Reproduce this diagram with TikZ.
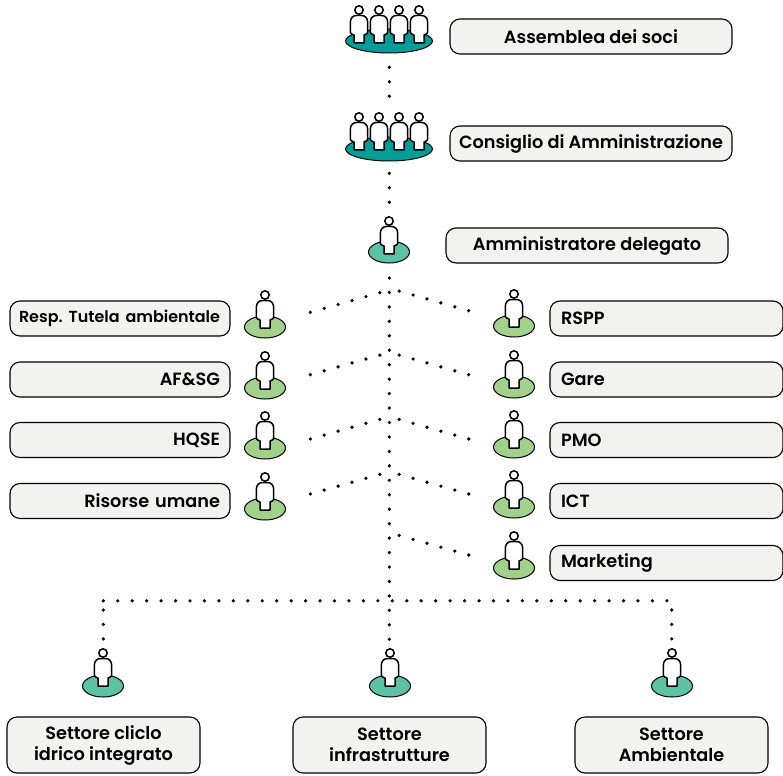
\documentclass[tikz,border=0pt]{standalone}
\usepackage{fontspec}
\setmainfont{Poppins}[BoldFont={Poppins SemiBold}]
\usepackage{xcolor}
\usetikzlibrary{positioning, shapes.geometric}
\definecolor{boardteal}{HTML}{009E98}
\definecolor{leadmint}{HTML}{5BC2A6}
\definecolor{staffgreen}{HTML}{A2D18C}
\definecolor{boxgray}{HTML}{F2F2F1}
\frenchspacing
\newcommand{\linefix}{\rule[-4pt]{0pt}{19pt}}
\tikzset{
    box/.style={draw=black, line width=1.1pt, fill=boxgray, rounded corners=10pt, font=\bfseries\fontsize{17.7}{21}\selectfont, minimum height=35pt, inner xsep=0pt, inner ysep=0pt},
    topbox/.style={box, minimum width=282pt},
    leftbox/.style={box, text width=200pt, minimum width=220pt, inner xsep=10pt, align=right},
    rightbox/.style={box, text width=211pt, minimum width=233pt, inner xsep=11pt, align=left},
    sectorbox/.style={box, minimum width=193pt, minimum height=56pt, align=center},
    plate/.style={ellipse, draw=black, line width=1pt, minimum width=41pt, minimum height=22pt, inner sep=0pt},
    bigplate/.style={plate, fill=boardteal, minimum width=87pt, minimum height=24pt},
    dots/.style={line width=3.6pt, line cap=round, dash pattern=on 0pt off 14.45pt},
    pics/person/.style={code={
        \draw[line width=1.5pt] (0,0) circle (4.2pt);
        \draw[line width=1.5pt, fill=white, line join=round] (-5,33) -- (-5,25) .. controls (-8.7,23.5) .. (-8.7,19.5) -- (-8.7,12.5) .. controls (-8.7,8) and (-6,5.5) .. (-2.5,5.5) -- (2.5,5.5) .. controls (6,5.5) and (8.7,8) .. (8.7,12.5) -- (8.7,19.5) .. controls (8.7,23.5) .. (5,25) -- (5,33) -- cycle;
    }}
}
\begin{document}
\begin{tikzpicture}[x=1pt, y=-1pt]
    \useasboundingbox (0,0) rectangle (783,775);
    % Top of the chart
    \node[bigplate] (assemblea) at (389,41) {};
    \foreach \px in {359,379,399,419} \pic at (\px,10) {person};
    \node[topbox] (assembleabox) at (591,36.5) {Assemblea dei soci};
    \node[bigplate] (consiglio) at (389,149) {};
    \foreach \px in {359,379,399,419} \pic at (\px,117) {person};
    \node[topbox] (consigliobox) at (591,143.5) {Consiglio di Amministrazione};
    \node[plate, fill=leadmint] (delegato) at (389,252) {};
    \pic at (389,221) {person};
    \node[topbox] (delegatobox) at (587,245.5) {Amministratore delegato};

    % Staff on the left
    \foreach \name/\py/\by/\boxtext in {tutela/327/318.5/{\fontsize{15.95}{18}\selectfont\makebox[200pt][r]{Resp. Tutela ambientale}}, afsg/388/379.5/AF\&SG, hqse/448/440/HQSE, risorse/509/501/Risorse umane} {
        \node[plate, fill=staffgreen] (\name) at (265,\py) {};
        \pic at (265,\py-32) {person};
        \node[leftbox] (\name box) at (120,\by) {\boxtext};
    }
    % Staff on the right
    \foreach \name/\py/\by/\boxtext in {rspp/326/318.5/RSPP, gare/387/379.5/Gare, pmo/447/440/PMO, ict/507/501/ICT, marketing/568/563/Marketing} {
        \node[plate, fill=staffgreen] (\name) at (514,\py) {};
        \pic at (514,\py-32) {person};
        \node[rightbox] (\name box) at (666.5,\by) {\boxtext};
    }

    % Sectors
    \foreach \name/\px/\bx/\first/\second in {ciclo/103/103.5/Settore cliclo/idrico integrato, infra/390/389.5/Settore/infrastrutture, ambiente/672/671.5/Settore/Ambientale} {
        \node[plate, fill=leadmint] (\name) at (\px,686) {};
        \pic at (\px,653) {person};
        \node[sectorbox] (\name box) at (\bx,745) {\first\linefix\\\second\linefix};
    }

    % Dotted connectors
    \coordinate (trunktop) at (389.3,278);
    \coordinate (trunkend) at (389.3,640);
    \coordinate (ciclotop) at (103.3,600.8);
    \coordinate (ambientetop) at (668,600.8);
    \draw[dots] (389.3,67.3) -- (389.3,97);
    \draw[dots] (389.3,173.3) -- (389.3,203);
    \draw[dots] (trunktop) -- (trunkend);
    \draw[dots] (ciclotop) -- (ambientetop);
    \draw[dots] (103.3,610) -- (103.3,640);
    \draw[dots] (671.7,610) -- (671.7,640);
    \foreach \ly in {312.3,374.7,439,494} \draw[dots] (310.3,\ly) -- (380.2,\ly-19.7);
    \foreach \ly in {310.7,374.7,439,494,555} \draw[dots] (468.7,\ly) -- (398.8,\ly-19.7);
\end{tikzpicture}
\end{document}
